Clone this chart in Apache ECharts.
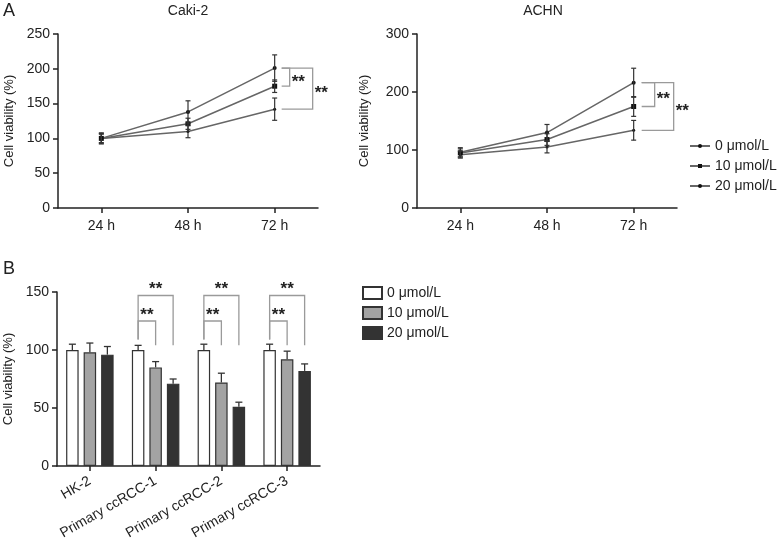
<!DOCTYPE html>
<html><head><meta charset="utf-8">
<script src="https://cdn.jsdelivr.net/npm/echarts@6/dist/echarts.min.js"></script>
<style>html,body{margin:0;padding:0;background:#fff}#c{width:777px;height:538px}</style>
</head><body><div id="c"></div>
<script>
// ---------- data ----------
const timeCats = ['24 h', '48 h', '72 h'];
const doses = ['0 μmol/L', '10 μmol/L', '20 μmol/L'];
const caki0 = [100, 138, 201];   const caki0Err = [8, 16, 19];
const caki10 = [100, 121, 175];  const caki10Err = [7, 8, 9];
const caki20 = [100, 110, 142];  const caki20Err = [6, 9, 16];
const achn0 = [96, 130, 216];    const achn0Err = [8, 14, 25];
const achn10 = [95, 118, 175];   const achn10Err = [7, 10, 17];
const achn20 = [92, 105, 134];   const achn20Err = [6, 10, 17];
const cakiTicks = [0, 50, 100, 150, 200, 250];
const achnTicks = [0, 100, 200, 300];
const cellCats = ['HK-2', 'Primary ccRCC-1', 'Primary ccRCC-2', 'Primary ccRCC-3'];
const bar0 = [100, 100, 100, 100];  const bar0Err = [5, 4, 5, 5];
const bar10 = [98, 85, 72, 92];     const bar10Err = [8, 5, 8, 7];
const bar20 = [96, 71, 51, 82];     const bar20Err = [7, 4, 4, 6];
const barTicks = [0, 50, 100, 150];
// significance: [category index, series a, series b]
const sigA = [[2, 0, 1], [2, 0, 2]];
const sigB = [[1, 0, 1], [1, 0, 2], [2, 0, 1], [2, 0, 2], [3, 0, 1], [3, 0, 2]];
const sigLabel = '**';

// ---------- styling ----------
const FONT = 'Liberation Sans, Arial, sans-serif';
const TXT = '#222';
const FS = 14;
const BAR_W = 12.5, BAR_GAP = 0.4;
const barColors = ['#ffffff', '#a3a3a3', '#333333'];
const lineSymbols = [['circle', 4], ['rect', 5], ['circle', 3]];

const cakiSets = [[caki0, caki0Err], [caki10, caki10Err], [caki20, caki20Err]];
const achnSets = [[achn0, achn0Err], [achn10, achn10Err], [achn20, achn20Err]];
const barSets = [[bar0, bar0Err], [bar10, bar10Err], [bar20, bar20Err]];

function yAxisCfg(grid, ticks, gap) {
  return {
    type: 'value', gridIndex: grid, min: ticks[0], max: ticks[ticks.length - 1],
    interval: ticks[1] - ticks[0],
    name: 'Cell viability (%)', nameLocation: 'middle', nameGap: gap, nameRotate: 90,
    nameTextStyle: {fontFamily: FONT, fontSize: 13, color: TXT},
    axisLine: {show: true, lineStyle: {color: '#222', width: 1.5}},
    axisTick: {show: true, length: 5, lineStyle: {color: '#222', width: 1.5}},
    axisLabel: {fontFamily: FONT, fontSize: FS, color: TXT, margin: 8},
    splitLine: {show: false}
  };
}
function xAxisCfg(grid, cats, label) {
  return {
    type: 'category', gridIndex: grid, data: cats, boundaryGap: true,
    axisLine: {show: true, lineStyle: {color: '#222', width: 1.5}},
    axisTick: {show: true, alignWithLabel: true, length: 5, lineStyle: {color: '#222', width: 1.5}},
    axisLabel: Object.assign({fontFamily: FONT, fontSize: FS, color: TXT, margin: 11}, label || {})
  };
}

function errLine(params, api) {
  const x = api.value(0), v = api.value(1), e = api.value(2);
  const t = api.coord([x, v + e]), b = api.coord([x, v - e]);
  const cw = 2.5, st = {stroke: '#333', lineWidth: 1.2};
  return {type: 'group', children: [
    {type: 'line', shape: {x1: t[0], y1: t[1], x2: b[0], y2: b[1]}, style: st},
    {type: 'line', shape: {x1: t[0] - cw, y1: t[1], x2: t[0] + cw, y2: t[1]}, style: st},
    {type: 'line', shape: {x1: b[0] - cw, y1: b[1], x2: b[0] + cw, y2: b[1]}, style: st}
  ]};
}
const barStep = BAR_W * (1 + BAR_GAP);
function errBar(params, api) {
  const x = api.value(0), v = api.value(1), e = api.value(2), s = api.value(3);
  const off = (s - 1) * barStep;
  const t = api.coord([x, v + e]), b = api.coord([x, v]);
  const cx = t[0] + off, cw = 3.5, st = {stroke: '#333', lineWidth: 1.3};
  return {type: 'group', children: [
    {type: 'line', shape: {x1: cx, y1: t[1], x2: cx, y2: b[1]}, style: st},
    {type: 'line', shape: {x1: cx - cw, y1: t[1], x2: cx + cw, y2: t[1]}, style: st}
  ]};
}
function sigLineRender(offs) {
  return function (params, api) {
    const x = api.value(0), va = api.value(1), vb = api.value(2), lvl = api.value(3);
    const a = api.coord([x, va]), b = api.coord([x, vb]);
    const x0 = a[0] + offs.start, xv = a[0] + (lvl === 1 ? offs.inner : offs.outer);
    const st = {stroke: '#9a9a9a', lineWidth: 1.3, fill: null};
    return {type: 'group', children: [
      {type: 'polyline', shape: {points: [[x0, a[1]], [xv, a[1]], [xv, b[1]], [x0, b[1]]]}, style: st},
      {type: 'text', x: xv + 2, y: (a[1] + b[1]) / 2 + 5,
       style: {text: sigLabel, fontFamily: FONT, fontSize: 17, fontWeight: 'bold', fill: '#222',
               align: 'left', verticalAlign: 'middle'}}
    ]};
  };
}
function sigBarRender(params, api) {
  const x = api.value(0), sa = api.value(1), sb = api.value(2);
  const lvl = sb === 1 ? 125 : 147;
  const topP = api.coord([x, lvl]);
  const la = api.coord([x, 109]), rb = api.coord([x, 104]);
  const xa = topP[0] + (sa - 1) * barStep, xb = topP[0] + (sb - 1) * barStep;
  const st = {stroke: '#9a9a9a', lineWidth: 1.3, fill: null};
  return {type: 'group', children: [
    {type: 'polyline', shape: {points: [[xa, la[1]], [xa, topP[1]], [xb, topP[1]], [xb, rb[1]]]}, style: st},
    {type: 'text', x: (xa + xb) / 2, y: topP[1] - 6,
     style: {text: sigLabel, fontFamily: FONT, fontSize: 17, fontWeight: 'bold', fill: '#222',
             align: 'center', verticalAlign: 'middle'}}
  ]};
}

const series = [];
[[cakiSets, 0], [achnSets, 1]].forEach(([sets, g]) => {
  sets.forEach(([vals, errs], i) => {
    series.push({
      type: 'line', name: doses[i], xAxisIndex: g, yAxisIndex: g, data: vals,
      symbol: lineSymbols[i][0], symbolSize: lineSymbols[i][1],
      lineStyle: {color: '#666', width: 1.5}, itemStyle: {color: '#111'}, z: 3
    });
    series.push({
      type: 'custom', xAxisIndex: g, yAxisIndex: g, renderItem: errLine, z: 4,
      encode: {x: 0, y: 1}, data: vals.map((v, k) => [k, v, errs[k]])
    });
  });
  series.push({
    type: 'custom', xAxisIndex: g, yAxisIndex: g, z: 5, encode: {x: 0, y: 1},
    renderItem: sigLineRender(g === 0 ? {start: 7, inner: 15, outer: 38} : {start: 8, inner: 21, outer: 40}),
    data: sigA.map(([c, a, b]) => [c, sets[a][0][c], sets[b][0][c], b])
  });
});
barSets.forEach(([vals, errs], i) => {
  series.push({
    type: 'bar', name: 'bar' + i, xAxisIndex: 2, yAxisIndex: 2, data: vals,
    barWidth: BAR_W, barGap: (BAR_GAP * 100) + '%',
    itemStyle: {color: barColors[i], borderColor: '#333', borderWidth: 1.2}
  });
  series.push({
    type: 'custom', xAxisIndex: 2, yAxisIndex: 2, renderItem: errBar, z: 4,
    encode: {x: 0, y: 1}, data: vals.map((v, k) => [k, v, errs[k], i])
  });
});
series.push({
  type: 'custom', xAxisIndex: 2, yAxisIndex: 2, renderItem: sigBarRender, z: 5,
  encode: {x: 0, y: 1}, data: sigB.map(([c, a, b]) => [c, a, b])
});

const option = {
  animation: false,
  backgroundColor: '#fff',
  textStyle: {fontFamily: FONT},
  title: [
    {text: 'A', left: 3, top: 2, padding: 0, textStyle: {fontFamily: FONT, fontSize: 18, fontWeight: 'normal', color: TXT}},
    {text: 'Caki-2', left: 188, top: 4, padding: 0, textAlign: 'center', textStyle: {fontFamily: FONT, fontSize: FS, fontWeight: 'normal', color: TXT}},
    {text: 'ACHN', left: 543, top: 4, padding: 0, textAlign: 'center', textStyle: {fontFamily: FONT, fontSize: FS, fontWeight: 'normal', color: TXT}},
    {text: 'B', left: 3, top: 260, padding: 0, textStyle: {fontFamily: FONT, fontSize: 18, fontWeight: 'normal', color: TXT}}
  ],
  grid: [
    {left: 58, top: 34, width: 260, height: 174, outerBoundsMode: 'none'},
    {left: 417, top: 34, width: 260, height: 174, outerBoundsMode: 'none'},
    {left: 57, top: 292, width: 263, height: 174, outerBoundsMode: 'none'}
  ],
  xAxis: [
    xAxisCfg(0, timeCats),
    xAxisCfg(1, timeCats),
    xAxisCfg(2, cellCats, {rotate: 30, margin: 14, interval: 0})
  ],
  yAxis: [yAxisCfg(0, cakiTicks, 42), yAxisCfg(1, achnTicks, 46), yAxisCfg(2, barTicks, 42)],
  legend: [
    {data: doses, orient: 'vertical', left: 689, top: 139, padding: 0, itemWidth: 20, itemHeight: 5, itemGap: 6,
     textStyle: {fontFamily: FONT, fontSize: FS, color: TXT}, selectedMode: false},
    {data: ['bar0', 'bar1', 'bar2'], orient: 'vertical', left: 362, top: 286, padding: 0, itemWidth: 19, itemHeight: 12,
     itemGap: 6, icon: 'rect', formatter: n => doses[+n.slice(3)],
     textStyle: {fontFamily: FONT, fontSize: FS, color: TXT}, selectedMode: false}
  ],
  series: series
};
const chart = echarts.init(document.getElementById('c'), null, {renderer: 'canvas'});
chart.setOption(option);
</script>
</body></html>
